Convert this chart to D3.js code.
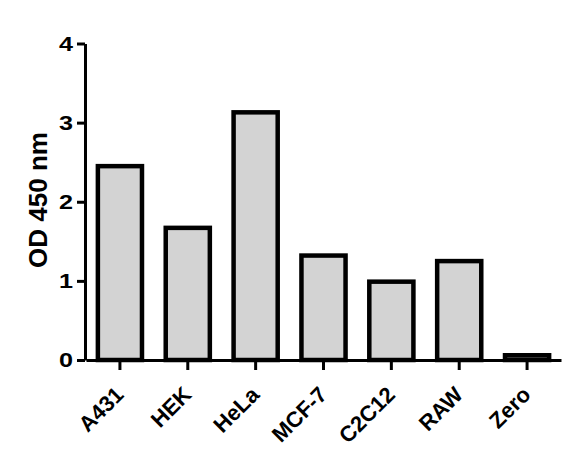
<!DOCTYPE html>
<html>
<head>
<meta charset="utf-8">
<script src="https://cdn.jsdelivr.net/npm/d3@7"></script>
<style>
  html, body { margin: 0; padding: 0; background: #ffffff; }
  svg { display: block; }
  text { font-family: "Liberation Sans", Arial, sans-serif; font-weight: bold; fill: #000; }
</style>
</head>
<body>
<svg id="chart" width="579" height="465"></svg>
<script>
const categories = ["A431", "HEK", "HeLa", "MCF-7", "C2C12", "RAW", "Zero"];
const values = [2.45, 1.67, 3.13, 1.32, 0.99, 1.25, 0.06];
const yTicks = [0, 1, 2, 3, 4];
const yLabel = "OD 450 nm";

const svg = d3.select("#chart");
svg.append("rect").attr("width", 579).attr("height", 465).attr("fill", "#fff");

const x = d3.scaleBand().domain(categories).range([86, 561]).paddingInner(0.35).paddingOuter(0.175);
const y = d3.scaleLinear().domain([0, 4]).range([360, 43.5]);

// bars
svg.append("g").selectAll("rect").data(categories).join("rect")
  .attr("x", d => x(d))
  .attr("y", (d, i) => y(values[i]))
  .attr("width", x.bandwidth())
  .attr("height", (d, i) => y(0) - y(values[i]))
  .attr("fill", "#d3d3d3")
  .attr("stroke", "#000")
  .attr("stroke-width", 4.5);

// y axis
const yAxis = svg.append("g").attr("transform", "translate(85,0)")
  .call(d3.axisLeft(y).tickValues(yTicks).tickFormat(d3.format("d")).tickSize(8).tickSizeOuter(0).tickPadding(4));
yAxis.select(".domain").attr("stroke-width", 3);
yAxis.selectAll(".tick line").attr("stroke-width", 3);
yAxis.selectAll(".tick text")
  .attr("font-size", 21)
  .attr("font-family", "Liberation Sans, Arial, sans-serif")
  .attr("font-weight", "bold")
  .attr("x", -10)
  .attr("transform", "scale(1.2,1)");

// x axis
const xAxis = svg.append("g").attr("transform", "translate(0,360)")
  .call(d3.axisBottom(x).tickSize(10).tickSizeOuter(0));
xAxis.select(".domain").attr("stroke-width", 3);
xAxis.selectAll(".tick line").attr("stroke-width", 3);
xAxis.selectAll(".tick text")
  .attr("font-size", 22)
  .attr("font-family", "Liberation Sans, Arial, sans-serif")
  .attr("font-weight", "bold")
  .attr("text-anchor", "end")
  .attr("dy", null)
  .attr("y", 0)
  .attr("transform", "translate(5,36) rotate(-45)");

// y label
svg.append("text")
  .attr("transform", "translate(47,200) rotate(-90)")
  .attr("text-anchor", "middle")
  .attr("font-size", 26)
  .text(yLabel);
</script>
</body>
</html>
